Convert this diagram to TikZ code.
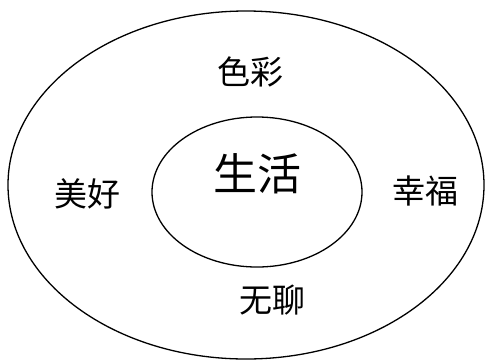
\documentclass[tikz,border=0pt]{standalone}
\usepackage{fontspec}
\newfontfamily\cjk{Noto Sans CJK SC}
\tikzset{
  word/.style={font=\cjk\fontsize{33}{36}\selectfont},
  bigword/.style={font=\cjk\fontsize{44}{48}\selectfont}
}
\begin{document}
\begin{tikzpicture}[x=1pt,y=-1pt]
    \useasboundingbox (0,0) rectangle (490,360);
    
    % Draw the outer ellipse
    \draw[line width=1.3pt] (246,185) ellipse [x radius=238, y radius=174];
    % Draw the inner ellipse
    \draw[line width=1.3pt] (257,192) ellipse [x radius=105, y radius=75];
    % Label the centre
    \node[bigword] (life) at (257,174) {生活};
    % Labels round it
    \node[word] (colour) at (250,72) {色彩};
    \node[word] (nice) at (87,194) {美好};
    \node[word] (happy) at (425,191) {幸福};
    \node[word] (dull) at (272,300) {无聊};
  \end{tikzpicture}
\end{document}
